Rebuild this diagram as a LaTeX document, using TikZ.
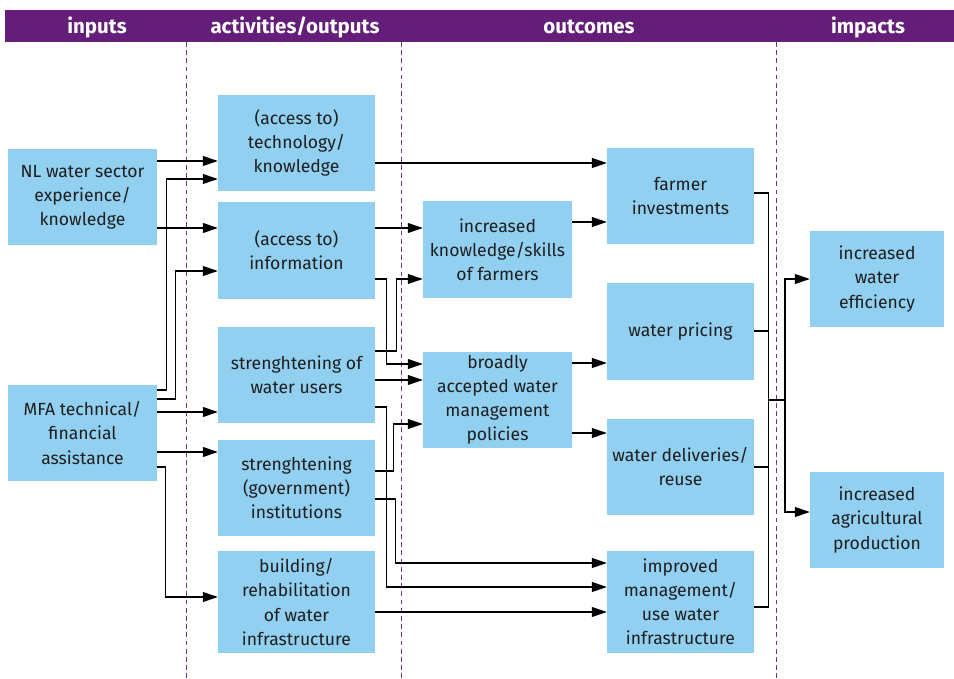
\documentclass[tikz,border=0pt]{standalone}
\usepackage{fontspec}
\setmainfont{Fira Sans}
\usetikzlibrary{arrows.meta}
\definecolor{boxblue}{RGB}{146,208,242}
\definecolor{barpurple}{RGB}{100,30,122}
\definecolor{txtdark}{RGB}{30,30,30}
\tikzset{
  box/.style = {fill = boxblue, text = txtdark, align = center, inner sep = 0pt, font = \fontsize{15}{20.5}\selectfont},
  inbox/.style = {box, minimum width = 4.47cm, minimum height = 2.9cm},
  actbox/.style = {box, minimum width = 4.71cm, minimum height = 2.88cm},
  midbox/.style = {box, minimum width = 4.47cm, minimum height = 2.9cm},
  outbox/.style = {box, minimum width = 4.41cm, minimum height = 2.88cm},
  impbox/.style = {box, minimum width = 4.02cm, minimum height = 2.88cm},
  arr/.style = {-{Triangle[length = 4.5mm, width = 3mm]}, line width = 0.9pt},
  link/.style = {line width = 0.9pt},
  lane/.style = {barpurple!90, dash pattern = on 4pt off 3pt, line width = 0.6pt},
  head/.style = {text = white, font = \fontsize{17.5}{20}\selectfont\bfseries}
}
\begin{document}
\begin{tikzpicture}[x = 0.03cm, y = -0.03cm]
            \useasboundingbox (0,0) rectangle (954,679);
            % header bar and lanes
            \fill[barpurple] (5,10) rectangle (954,42);
            \node[head] (hin) at (97,27) {inputs};
            \node[head] (hact) at (295,27) {activities/outputs};
            \node[head] (hout) at (589,27) {outcomes};
            \node[head] (himp) at (868,27) {impacts};
            \draw[lane] (186,42) -- (186,679);
            \draw[lane] (401,42) -- (401,679);
            \draw[lane] (776,42) -- (776,679);
            % inputs
            \node[inbox] (nl) at (82.5,197) {NL water sector\\experience/\\knowledge};
            \node[inbox] (mfa) at (82.5,433) {MFA technical/\\financial\\assistance};
            % activities/outputs
            \node[actbox] (tech) at (296.5,143) {(access to)\\technology/\\knowledge};
            \node[actbox] (info) at (296.5,250.5) {(access to)\\information};
            \node[actbox] (users) at (296.5,375) {strenghtening of\\water users};
            \node[actbox] (govt) at (296.5,488) {strenghtening\\(government)\\institutions};
            \node[actbox, minimum height = 3.06cm] (build) at (296.5,602) {building/\\rehabilitation\\of water\\infrastructure};
            % outcomes
            \node[midbox] (skills) at (497.5,249.5) {increased\\knowledge/skills\\of farmers};
            \node[midbox] (policy) at (497.5,400) {broadly\\accepted water\\management\\policies};
            \node[outbox] (farmer) at (680.5,196) {farmer\\investments};
            \node[outbox] (pricing) at (680.5,331.5) {water pricing};
            \node[outbox] (deliv) at (680.5,467) {water deliveries/\\reuse};
            \node[outbox, minimum height = 3.06cm] (improved) at (680.5,602) {improved\\management/\\use water\\infrastructure};
            % impacts
            \node[impbox] (effic) at (877,279) {increased\\water\\efficiency};
            \node[impbox] (agri) at (877,520) {increased\\agricultural\\production};
            % inputs to activities
            \draw[arr] (nl.east |- 0,161) -- (tech.west |- 0,161);
            \draw[arr] (nl.east |- 0,228) -- (info.west |- 0,228);
            \draw[arr] (mfa.east |- 0,390) -- ++(9,0) |- (tech.west |- 0,179);
            \draw[arr] (mfa.east |- 0,399) -- ++(18,0) |- (info.west |- 0,271);
            \draw[arr] (mfa.east |- 0,412) -- (users.west |- 0,412);
            \draw[arr] (mfa.east |- 0,452) -- (govt.west |- 0,452);
            \draw[arr] (mfa.east |- 0,467) -- ++(8,0) |- (build.west |- 0,597);
            % activities to outcomes
            \draw[arr] (tech.east |- 0,163) -- (farmer.west |- 0,163);
            \draw[arr] (info.east |- 0,228) -- (skills.west |- 0,228);
            \draw[arr] (info.east |- 0,279) -- ++(11,0) |- (policy.west |- 0,364);
            \draw[arr] (users.east |- 0,351) -- ++(21,0) |- (skills.west |- 0,279);
            \draw[arr] (users.east |- 0,380) -- (policy.west |- 0,380);
            \draw[arr] (users.east |- 0,407) -- ++(11,0) |- (improved.west |- 0,587);
            \draw[arr] (govt.east |- 0,471) -- ++(18,0) |- (policy.west |- 0,424);
            \draw[arr] (govt.east |- 0,499) -- ++(20,0) |- (improved.west |- 0,563);
            \draw[arr] (build.east |- 0,612) -- (improved.west |- 0,612);
            \draw[arr] (skills.east |- 0,222) -- (farmer.west |- 0,222);
            \draw[arr] (policy.east |- 0,363) -- (pricing.west |- 0,363);
            \draw[arr] (policy.east |- 0,433) -- (deliv.west |- 0,433);
            % outcomes to impacts
            \draw[link] (farmer.east |- 0,193) -- ++(14,0) |- (improved.east |- 0,607);
            \draw[link] (pricing.east |- 0,331) -- ++(14,0);
            \draw[link] (deliv.east |- 0,467) -- ++(14,0);
            \coordinate (bus) at (768,400);
            \draw[link] (bus) -- ++(17,0);
            \draw[arr] (bus) ++(17,0) |- (effic.west |- 0,279);
            \draw[arr] (bus) ++(17,0) |- (agri.west |- 0,512);
        \end{tikzpicture}
\end{document}
